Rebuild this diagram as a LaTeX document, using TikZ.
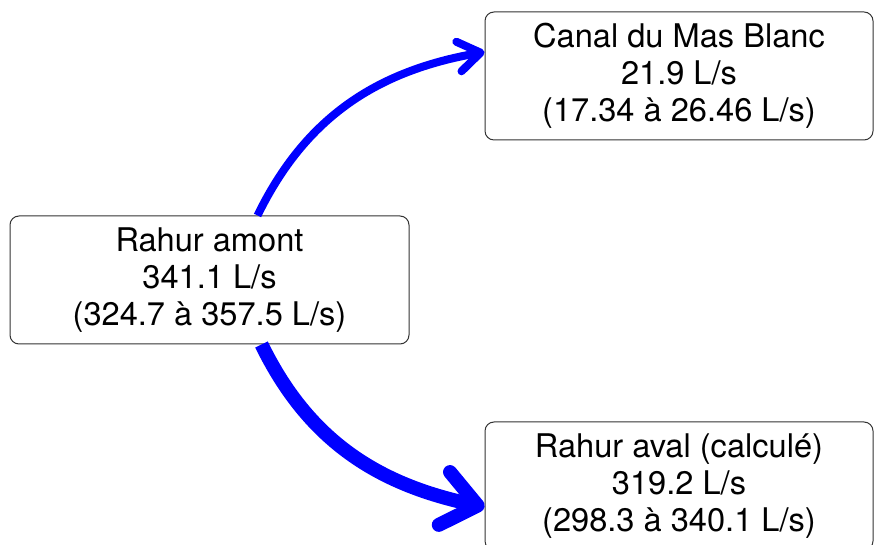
\documentclass[tikz,border=0pt]{standalone}
\usepackage{fontspec}
\setmainfont{TeX Gyre Heros}
\usetikzlibrary{arrows.meta}
\definecolor{boxline}{HTML}{333333}
\begin{document}
\begin{tikzpicture}[x=1pt,y=1pt,
  flowbox/.style={draw=boxline, line width=1pt, rounded corners=9pt, fill=white,
    minimum height=128pt, align=center, inner sep=0pt,
    font=\fontsize{32.6}{37.2}\selectfont},
  flow/.style={draw=blue, line cap=butt}
]
\useasboundingbox (0,0) rectangle (874,545);
\node[flowbox, minimum width=399pt] (A) at (209.5,265) {Rahur amont\\341.1 L/s\\(324.7 à 357.5 L/s)};
\node[flowbox, minimum width=388pt] (B) at (679,469) {Canal du Mas Blanc\\21.9 L/s\\(17.34 à 26.46 L/s)};
\node[flowbox, minimum width=388pt] (C) at (679,59) {Rahur aval (calculé)\\319.2 L/s\\(298.3 à 340.1 L/s)};
\draw[flow, line width=8pt, -{Straight Barb[round,length=22pt,width=30pt]}]
  ([xshift=48pt]A.north) to[out=64,in=190] ([yshift=24pt]B.west);
\draw[flow, line width=14pt, -{Straight Barb[round,length=34pt,width=54pt]}]
  ([xshift=52pt]A.south) to[out=-64,in=168] ([yshift=-21pt]C.west);
\end{tikzpicture}
\end{document}
